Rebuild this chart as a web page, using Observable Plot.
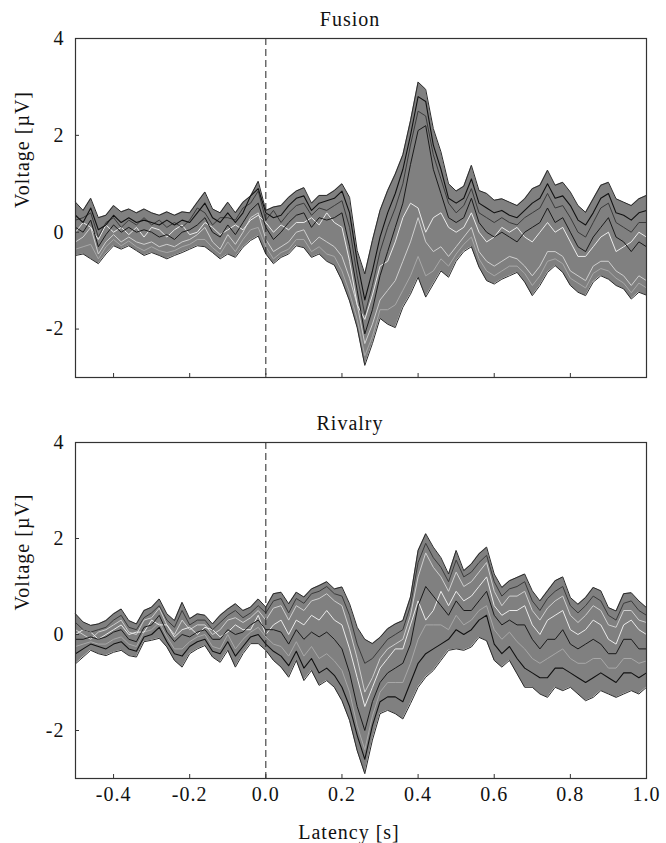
<!DOCTYPE html>
<html><head><meta charset="utf-8">
<script src="https://cdn.jsdelivr.net/npm/d3@7"></script>
<script src="https://cdn.jsdelivr.net/npm/@observablehq/plot@0.6"></script>
<style>
body{margin:0;background:#fff}
svg{display:block}
#chart svg, #chart svg text{font-family:"Liberation Serif","Times New Roman",Times,"DejaVu Serif",serif !important;}
</style>
</head><body><div id="chart"></div>
<script>
// Latency grid (s)
const latency = [-0.50,-0.48,-0.46,-0.44,-0.42,-0.40,-0.38,-0.36,-0.34,-0.32,
  -0.30,-0.28,-0.26,-0.24,-0.22,-0.20,-0.18,-0.16,-0.14,-0.12,
  -0.10,-0.08,-0.06,-0.04,-0.02,0.00,0.02,0.04,0.06,0.08,
  0.10,0.12,0.14,0.16,0.18,0.20,0.22,0.24,0.26,0.28,
  0.30,0.32,0.34,0.36,0.38,0.40,0.42,0.44,0.46,0.48,
  0.50,0.52,0.54,0.56,0.58,0.60,0.62,0.64,0.66,0.68,
  0.70,0.72,0.74,0.76,0.78,0.80,0.82,0.84,0.86,0.88,
  0.90,0.92,0.94,0.96,0.98,1.00];
const xTicks = [-0.4,-0.2,0.0,0.2,0.4,0.6,0.8,1.0];
const yTicks = [-2,0,2,4];
const panelTitles = ["Fusion","Rivalry"];

// ---- Fusion: channel envelope and representative channels (µV)
const fusionUpper = [0.62,0.45,0.70,0.30,0.35,0.55,0.42,0.48,0.40,0.48,
  0.40,0.35,0.42,0.35,0.42,0.40,0.62,0.83,0.48,0.40,
  0.62,0.40,0.62,0.75,1.05,0.45,0.52,0.55,0.72,0.85,
  0.92,0.60,0.76,0.76,0.86,1.00,0.72,-0.38,-0.86,-0.17,
  0.45,0.86,1.20,1.60,2.30,3.10,2.95,2.14,1.66,1.00,
  0.85,0.95,1.38,0.86,0.80,0.66,0.69,0.62,0.55,0.69,
  0.90,0.97,1.28,0.97,1.03,0.83,0.55,0.41,0.69,0.97,
  1.03,0.69,0.62,0.55,0.69,0.76];
const fusionLower = [-0.48,-0.45,-0.55,-0.65,-0.45,-0.28,-0.35,-0.28,-0.38,-0.48,
  -0.42,-0.48,-0.55,-0.48,-0.42,-0.35,-0.28,-0.30,-0.42,-0.55,
  -0.45,-0.52,-0.31,-0.17,-0.08,-0.45,-0.65,-0.52,-0.45,-0.28,
  -0.32,-0.52,-0.45,-0.60,-0.68,-1.00,-1.42,-1.97,-2.75,-2.30,
  -1.78,-1.90,-1.97,-1.55,-1.28,-0.93,-1.34,-1.07,-0.80,-0.93,
  -0.60,-0.40,-0.30,-0.72,-1.00,-1.07,-0.97,-0.90,-0.83,-1.03,
  -1.31,-1.10,-0.83,-0.69,-0.83,-1.10,-1.24,-1.31,-1.03,-0.90,
  -0.97,-1.10,-1.17,-1.38,-1.24,-1.30];
const fusionChA = [0.10,0.00,0.25,-0.30,-0.05,0.15,0.00,0.10,0.00,0.05,
  0.00,-0.10,-0.05,-0.15,0.00,0.05,0.15,0.30,0.00,-0.10,
  0.15,-0.05,0.20,0.45,0.60,0.10,-0.15,0.00,0.20,0.35,
  0.40,0.10,0.30,0.25,0.30,0.40,-0.30,-1.20,-2.10,-1.60,
  -0.90,-0.40,0.10,0.60,1.40,2.10,2.20,1.30,0.80,0.30,
  0.20,0.30,0.70,0.20,0.00,-0.10,0.00,-0.10,-0.20,0.00,
  0.10,0.20,0.50,0.20,0.30,0.00,-0.30,-0.40,-0.10,0.10,
  0.30,-0.10,-0.20,-0.40,-0.20,-0.30];
const fusionChB = [-0.20,-0.10,0.10,-0.45,-0.20,-0.05,-0.20,-0.10,-0.20,-0.25,
  -0.20,-0.30,-0.25,-0.30,-0.20,-0.15,-0.05,0.10,-0.20,-0.35,
  -0.05,-0.25,0.00,0.30,0.40,-0.15,-0.40,-0.30,-0.20,0.00,
  0.05,-0.25,-0.10,-0.20,-0.30,-0.50,-0.95,-1.50,-2.30,-1.90,
  -1.40,-1.20,-1.00,-0.60,-0.20,0.30,-0.20,-0.40,-0.30,-0.50,
  -0.30,-0.10,0.10,-0.40,-0.60,-0.70,-0.60,-0.50,-0.55,-0.70,
  -0.90,-0.70,-0.40,-0.40,-0.50,-0.80,-0.90,-1.00,-0.70,-0.60,
  -0.60,-0.80,-0.90,-1.10,-0.90,-1.00];
const fusionChC = [0.35,0.20,0.50,0.05,0.15,0.35,0.20,0.30,0.20,0.25,
  0.20,0.15,0.25,0.15,0.25,0.20,0.40,0.60,0.30,0.20,
  0.40,0.20,0.40,0.75,0.90,0.40,0.30,0.35,0.55,0.70,
  0.75,0.45,0.60,0.65,0.70,0.85,0.40,-0.60,-1.40,-0.80,
  -0.10,0.40,0.80,1.30,2.00,2.80,2.70,1.80,1.30,0.70,
  0.60,0.70,1.10,0.60,0.50,0.40,0.45,0.35,0.30,0.45,
  0.60,0.70,1.00,0.70,0.75,0.55,0.25,0.15,0.40,0.70,
  0.80,0.40,0.35,0.25,0.40,0.45];
const fusionChD = [0.00,0.20,0.10,-0.15,0.15,0.00,0.10,-0.05,0.10,-0.10,
  0.10,0.05,-0.10,0.05,0.15,-0.05,0.00,0.20,0.10,-0.05,
  0.05,0.15,0.05,0.25,0.35,0.20,0.00,0.15,0.05,0.20,
  0.20,0.30,0.15,0.40,0.20,0.10,-0.60,-1.50,-1.80,-1.30,
  -0.70,-0.60,-0.20,0.30,0.60,0.50,0.00,0.30,0.40,0.10,
  0.00,0.10,0.40,0.00,-0.20,-0.10,0.10,0.00,0.10,-0.10,
  -0.20,0.00,0.20,0.00,0.10,-0.20,-0.50,-0.50,-0.30,-0.10,
  0.00,-0.40,-0.30,-0.20,0.00,-0.10];
const fusionChE = [0.25,0.30,0.40,-0.10,0.20,0.30,0.10,0.25,0.15,0.30,
  0.15,0.25,0.10,0.20,0.10,0.25,0.50,0.40,0.15,0.30,
  0.30,0.25,0.50,0.60,0.85,0.25,0.45,0.20,0.40,0.55,
  0.60,0.35,0.50,0.45,0.55,0.65,0.10,-0.90,-1.70,-1.10,
  -0.40,0.10,0.50,1.00,1.80,2.50,2.40,1.60,1.10,0.60,
  0.40,0.55,0.90,0.40,0.30,0.20,0.30,0.20,0.15,0.30,
  0.40,0.50,0.80,0.50,0.55,0.30,0.00,-0.10,0.20,0.50,
  0.60,0.20,0.10,0.00,0.20,0.20];
const fusionChF = [-0.35,-0.30,-0.25,-0.55,-0.30,-0.15,-0.28,-0.18,-0.30,-0.38,
  -0.30,-0.38,-0.42,-0.38,-0.30,-0.25,-0.15,-0.15,-0.32,-0.45,
  -0.20,-0.40,-0.15,0.05,0.10,-0.30,-0.55,-0.42,-0.35,-0.15,
  -0.15,-0.40,-0.30,-0.45,-0.50,-0.80,-1.25,-1.80,-2.55,-2.15,
  -1.60,-1.60,-1.50,-1.20,-0.90,-0.50,-0.90,-0.80,-0.55,-0.70,
  -0.45,-0.25,-0.10,-0.55,-0.80,-0.90,-0.80,-0.70,-0.70,-0.85,
  -1.10,-0.90,-0.60,-0.55,-0.65,-0.95,-1.05,-1.15,-0.85,-0.75,
  -0.80,-0.95,-1.05,-1.25,-1.05,-1.15];

// ---- Rivalry
const rivalryUpper = [0.43,0.26,0.19,0.22,0.29,0.43,0.53,0.29,0.22,0.50,
  0.57,0.74,0.43,0.29,0.67,0.33,0.43,0.40,0.22,0.40,
  0.53,0.64,0.50,0.57,0.74,0.57,0.85,0.88,0.64,0.88,
  0.78,0.95,1.02,1.10,0.95,0.99,0.64,0.15,-0.10,-0.19,
  -0.06,0.12,0.22,0.29,0.78,1.75,2.10,1.82,1.60,1.26,
  1.75,1.33,1.47,1.68,1.82,1.26,0.98,1.12,1.19,1.26,
  0.91,0.70,0.91,1.12,1.20,0.77,0.63,0.77,0.98,0.91,
  0.56,0.49,0.85,0.87,0.70,0.56];
const rivalryLower = [-0.61,-0.47,-0.33,-0.40,-0.44,-0.37,-0.33,-0.44,-0.47,-0.15,
  -0.12,-0.08,-0.26,-0.54,-0.68,-0.40,-0.30,-0.23,-0.47,-0.58,
  -0.33,-0.68,-0.40,-0.19,-0.19,-0.33,-0.54,-0.68,-0.89,-0.54,
  -0.96,-0.75,-1.06,-0.96,-1.10,-1.38,-1.79,-2.42,-2.90,-2.20,
  -1.65,-1.58,-1.65,-1.76,-1.44,-1.10,-0.89,-0.75,-0.54,-0.33,
  -0.30,-0.33,-0.26,-0.06,-0.13,-0.54,-0.68,-0.54,-0.82,-1.10,
  -1.10,-1.24,-1.31,-1.10,-1.17,-1.10,-1.24,-1.38,-1.31,-1.17,
  -1.24,-1.31,-1.24,-1.17,-1.24,-1.10];
const rivalryChA = [-0.10,-0.10,-0.05,-0.10,-0.05,0.05,0.10,-0.10,-0.15,0.15,
  0.20,0.40,0.05,-0.15,0.00,-0.05,0.05,0.10,-0.10,-0.10,
  0.10,0.00,0.05,0.20,0.30,0.10,0.10,0.05,-0.20,0.10,
  -0.10,0.05,-0.05,0.05,-0.10,-0.30,-0.80,-1.50,-2.00,-1.40,
  -1.00,-0.80,-0.70,-0.60,-0.20,0.60,1.00,0.80,0.60,0.40,
  0.70,0.50,0.50,0.70,0.90,0.40,0.20,0.30,0.20,0.20,
  -0.10,-0.30,-0.10,-0.10,0.10,-0.20,-0.30,-0.20,-0.10,-0.20,
  -0.40,-0.40,-0.10,-0.10,-0.30,-0.30];
const rivalryChB = [0.10,0.00,-0.10,0.05,0.10,0.20,0.30,0.05,0.00,0.30,
  0.35,0.55,0.20,0.00,0.30,0.10,0.20,0.20,0.00,0.10,
  0.30,0.35,0.25,0.35,0.50,0.30,0.55,0.60,0.30,0.60,
  0.50,0.70,0.75,0.85,0.70,0.60,0.10,-0.50,-1.20,-0.90,
  -0.50,-0.30,-0.20,-0.10,0.40,1.20,1.70,1.40,1.20,0.90,
  1.30,1.00,1.10,1.30,1.50,0.90,0.60,0.80,0.80,0.90,
  0.50,0.30,0.55,0.70,0.80,0.40,0.25,0.40,0.60,0.50,
  0.20,0.15,0.50,0.50,0.30,0.25];
const rivalryChC = [-0.40,-0.30,-0.20,-0.25,-0.30,-0.20,-0.15,-0.30,-0.35,-0.05,
  0.00,0.15,-0.15,-0.40,-0.45,-0.25,-0.15,-0.10,-0.35,-0.40,
  -0.15,-0.45,-0.25,-0.05,0.00,-0.20,-0.35,-0.45,-0.65,-0.35,
  -0.70,-0.50,-0.80,-0.70,-0.85,-1.10,-1.50,-2.10,-2.60,-1.90,
  -1.40,-1.30,-1.30,-1.40,-1.00,-0.60,-0.40,-0.30,-0.20,-0.10,
  0.10,0.00,0.10,0.30,0.40,-0.20,-0.40,-0.25,-0.50,-0.70,
  -0.80,-0.90,-0.90,-0.70,-0.70,-0.80,-0.90,-1.00,-0.90,-0.80,
  -0.90,-1.00,-0.80,-0.80,-0.90,-0.80];
const rivalryChD = [0.00,0.10,0.05,-0.10,0.00,0.10,0.20,0.00,0.05,0.05,
  0.30,0.20,0.20,-0.05,0.10,0.15,0.00,0.15,0.10,-0.05,
  0.05,0.20,0.10,0.10,0.40,0.00,0.20,0.30,0.00,0.30,
  0.20,0.40,0.30,0.50,0.30,0.20,-0.30,-0.90,-1.50,-1.10,
  -0.70,-0.50,-0.30,-0.30,0.20,0.70,0.30,0.50,0.90,0.60,
  0.90,0.70,0.80,1.00,1.20,0.60,0.40,0.50,0.50,0.60,
  0.20,0.00,0.30,0.40,0.50,0.10,0.00,0.10,0.30,0.20,
  -0.10,-0.20,0.20,0.30,0.10,0.00];
const rivalryChE = [0.25,0.10,0.05,0.10,0.15,0.30,0.40,0.15,0.10,0.35,
  0.45,0.60,0.30,0.15,0.50,0.20,0.30,0.30,0.10,0.25,
  0.40,0.50,0.35,0.45,0.60,0.45,0.70,0.75,0.45,0.75,
  0.65,0.85,0.90,1.00,0.85,0.80,0.40,-0.20,-0.60,-0.50,
  -0.30,-0.10,0.00,0.10,0.60,1.50,1.90,1.60,1.40,1.10,
  1.55,1.20,1.30,1.50,1.65,1.10,0.80,0.95,1.00,1.10,
  0.70,0.50,0.75,0.90,1.00,0.60,0.45,0.60,0.80,0.70,
  0.40,0.30,0.65,0.70,0.50,0.40];
const rivalryChF = [-0.25,-0.20,-0.15,-0.20,-0.20,-0.10,-0.05,-0.20,-0.25,0.05,
  0.10,0.25,-0.05,-0.30,-0.30,-0.15,-0.05,0.00,-0.25,-0.30,
  0.00,-0.30,-0.10,0.05,0.15,-0.05,-0.20,-0.25,-0.45,-0.15,
  -0.45,-0.25,-0.50,-0.40,-0.55,-0.75,-1.20,-1.90,-2.40,-1.70,
  -1.20,-1.00,-1.00,-1.00,-0.60,-0.10,0.20,0.20,0.20,0.10,
  0.40,0.20,0.30,0.50,0.60,0.10,-0.10,0.05,-0.15,-0.30,
  -0.50,-0.60,-0.50,-0.40,-0.30,-0.50,-0.60,-0.60,-0.50,-0.50,
  -0.70,-0.70,-0.50,-0.50,-0.60,-0.55];

const FONT = "'Liberation Serif', 'Times New Roman', Times, serif";

function panel(title, upper, lower, chans, opts) {
  const fmt = d => d.toFixed(1);
  const marks = [
    Plot.areaY(latency, {x: d => d, y1: (d, i) => lower[i], y2: (d, i) => upper[i], fill: "#808080"}),
    Plot.line(latency, {x: d => d, y: (d, i) => upper[i], stroke: "#2a2a2a", strokeWidth: 1}),
    Plot.line(latency, {x: d => d, y: (d, i) => lower[i], stroke: "#2a2a2a", strokeWidth: 1}),
    ...chans.map(c => Plot.line(latency, {x: d => d, y: (d, i) => c.v[i], stroke: c.color, strokeWidth: c.w})),
    Plot.ruleX([0], {stroke: "#222", strokeWidth: 1, strokeDasharray: "7,4"}),
    Plot.frame({stroke: "#333", strokeWidth: 1.2}),
    Plot.axisY(yTicks, {tickSize: -4, tickPadding: 15, tickFormat: d => String(d), fontSize: 20, fontFamily: FONT, label: null, stroke: "#333"}),
    Plot.axisX(xTicks, {tickSize: -4, tickPadding: 12, tickFormat: opts.xLabels ? fmt : () => "", fontSize: 20, fontFamily: FONT, label: null, stroke: "#333"}),
    Plot.text([title], {text: d => d, frameAnchor: "top", lineAnchor: "middle", dy: -19, dx: -11, fontSize: 20, fontFamily: FONT}),
    Plot.text(["Voltage [µV]"], {text: d => d, frameAnchor: "left", lineAnchor: "middle", dx: -53, rotate: -90, fontSize: 20, fontFamily: FONT})
  ];
  if (opts.xLabels) marks.push(Plot.text(["Latency [s]"], {text: d => d, frameAnchor: "bottom", lineAnchor: "middle", dy: 54, dx: -12, fontSize: 20, fontFamily: FONT}));
  return Plot.plot({
    width: 666, height: opts.height,
    marginTop: opts.mt, marginBottom: opts.mb, marginLeft: 75, marginRight: 20,
    style: {fontFamily: FONT, fontSize: "20px", letterSpacing: "1px", color: "#111", background: "#fff"},
    x: {domain: [-0.5, 1.0], label: null},
    y: {domain: [-3, 4], label: null},
    marks
  });
}

const root = document.getElementById("chart");
root.appendChild(panel(panelTitles[0], fusionUpper, fusionLower, [
  {v: fusionChF, color: "#a8a8a8", w: 1},
  {v: fusionChB, color: "#cfcfcf", w: 1},
  {v: fusionChD, color: "#ebebeb", w: 1},
  {v: fusionChE, color: "#3a3a3a", w: 1},
  {v: fusionChA, color: "#1a1a1a", w: 1},
  {v: fusionChC, color: "#111", w: 1.1}
], {height: 400, mt: 38, mb: 23, xLabels: false}));
root.appendChild(panel(panelTitles[1], rivalryUpper, rivalryLower, [
  {v: rivalryChF, color: "#a8a8a8", w: 1},
  {v: rivalryChB, color: "#cfcfcf", w: 1},
  {v: rivalryChD, color: "#ebebeb", w: 1},
  {v: rivalryChE, color: "#3a3a3a", w: 1},
  {v: rivalryChA, color: "#1a1a1a", w: 1},
  {v: rivalryChC, color: "#111", w: 1.1}
], {height: 443, mt: 42, mb: 65, xLabels: true}));
</script>
</body></html>
